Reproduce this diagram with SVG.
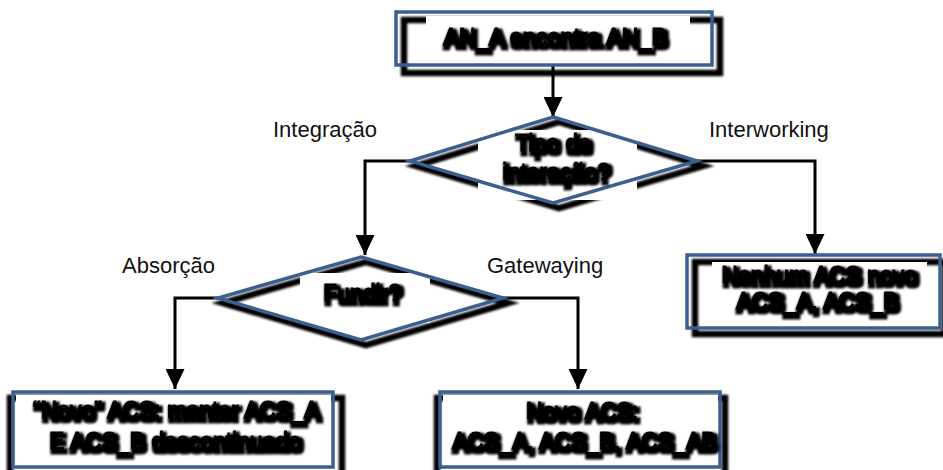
<svg xmlns="http://www.w3.org/2000/svg" width="943" height="470" viewBox="0 0 943 470">
  <defs>
    <style>
      .shadow { fill: none; stroke: #000; stroke-width: 6.5; }
      .pad { fill: #fff; stroke: none; }
      .frame { fill: none; stroke: #3b5f8f; stroke-width: 3.5; }
      .label { font-family: "Liberation Sans", Arial, sans-serif; font-size: 22px; fill: #111; }
      .node-text { font-family: "Liberation Sans", Arial, sans-serif; font-size: 23px; fill: #000; stroke: #000; stroke-width: 0.9; text-anchor: middle; filter: url(#smear); }
      .edge { fill: none; stroke: #000; stroke-width: 3; marker-end: url(#arrow); }
    </style>
    <filter id="smear" x="-10%" y="-30%" width="120%" height="170%">
      <feMorphology in="SourceAlpha" operator="dilate" radius="1.8" result="fat"/>
      <feOffset in="fat" dx="2" dy="3" result="off"/>
      <feGaussianBlur in="off" stdDeviation="1.1" result="soft"/>
      <feMerge>
        <feMergeNode in="soft"/>
        <feMergeNode in="SourceGraphic"/>
      </feMerge>
    </filter>
    <filter id="blurEdge" x="-5%" y="-10%" width="110%" height="120%">
      <feGaussianBlur stdDeviation="0.8"/>
    </filter>
    <marker id="arrow" viewBox="0 0 20 19" refX="20" refY="9.5" markerWidth="20" markerHeight="19" markerUnits="userSpaceOnUse" orient="auto">
      <path d="M0,0 L20,9.5 L0,19 Z" fill="#000"/>
    </marker>
  </defs>

  <!-- connectors -->
  <g id="connectors">
    <path class="edge" d="M553,66 L553,117"/>
    <path class="edge" d="M410,161 L365,161 L365,255"/>
    <path class="edge" d="M697,161 L815,161 L815,254"/>
    <path class="edge" d="M218,298 L175,298 L175,389"/>
    <path class="edge" d="M503,298 L578,298 L578,389"/>
  </g>

  <!-- edge labels -->
  <g id="edge-labels">
    <text class="label" x="273" y="137">Integração</text>
    <text class="label" x="709" y="137">Interworking</text>
    <text class="label" x="122" y="273">Absorção</text>
    <text class="label" x="487" y="273">Gatewaying</text>
  </g>

  <!-- start -->
  <g id="start">
    <rect class="shadow" x="404" y="20" width="316" height="53" filter="url(#blurEdge)"/>
    <rect class="pad" x="426" y="16" width="264" height="46"/>
    <rect class="frame" x="396" y="12" width="316" height="53"/>
    <text class="node-text" x="555" y="45" textLength="224" lengthAdjust="spacingAndGlyphs">AN_A encontra AN_B</text>
  </g>

  <!-- decision: interaction type -->
  <g id="tipo">
    <polygon class="shadow" points="559,122 703,166 559,208 416,166" filter="url(#blurEdge)"/>
    <rect class="pad" x="478" y="130" width="159" height="70"/>
    <polygon class="frame" points="553,117 697,161 553,203 410,161"/>
    <text class="node-text" x="553" y="151">Tipo de</text>
    <text class="node-text" x="556" y="180">interação?</text>
  </g>

  <!-- decision: merge -->
  <g id="fundir">
    <polygon class="shadow" points="366,262 508,303 366,345 223,303" filter="url(#blurEdge)"/>
    <rect class="pad" x="300" y="273" width="130" height="50"/>
    <polygon class="frame" points="361,257 503,298 361,340 218,298"/>
    <text class="node-text" x="362" y="301">Fundir?</text>
  </g>

  <!-- outcome: interworking -->
  <g id="nenhum">
    <rect class="shadow" x="695" y="262" width="250" height="72" filter="url(#blurEdge)"/>
    <rect class="pad" x="712" y="262" width="215" height="60"/>
    <rect class="frame" x="687" y="255" width="253" height="73"/>
    <text class="node-text" x="819" y="283">Nenhum ACS novo</text>
    <text class="node-text" x="817" y="309">ACS_A, ACS_B</text>
  </g>

  <!-- outcome: absorption -->
  <g id="novo-absorcao">
    <rect class="shadow" x="10" y="398" width="332" height="80" filter="url(#blurEdge)"/>
    <rect class="pad" x="16" y="395" width="315" height="70"/>
    <rect class="frame" x="13" y="392" width="320" height="75"/>
    <text class="node-text" x="176" y="418">“Novo” ACS: manter ACS_A</text>
    <text class="node-text" x="175" y="449">E ACS_B descontinuado</text>
  </g>

  <!-- outcome: gatewaying -->
  <g id="novo-gateway">
    <rect class="shadow" x="437" y="398" width="288" height="80" filter="url(#blurEdge)"/>
    <rect class="pad" x="443" y="395" width="275" height="70"/>
    <rect class="frame" x="440" y="392" width="280" height="75"/>
    <text class="node-text" x="582" y="419">Novo ACS:</text>
    <text class="node-text" x="584" y="449">ACS_A, ACS_B, ACS_AB</text>
  </g>
</svg>
